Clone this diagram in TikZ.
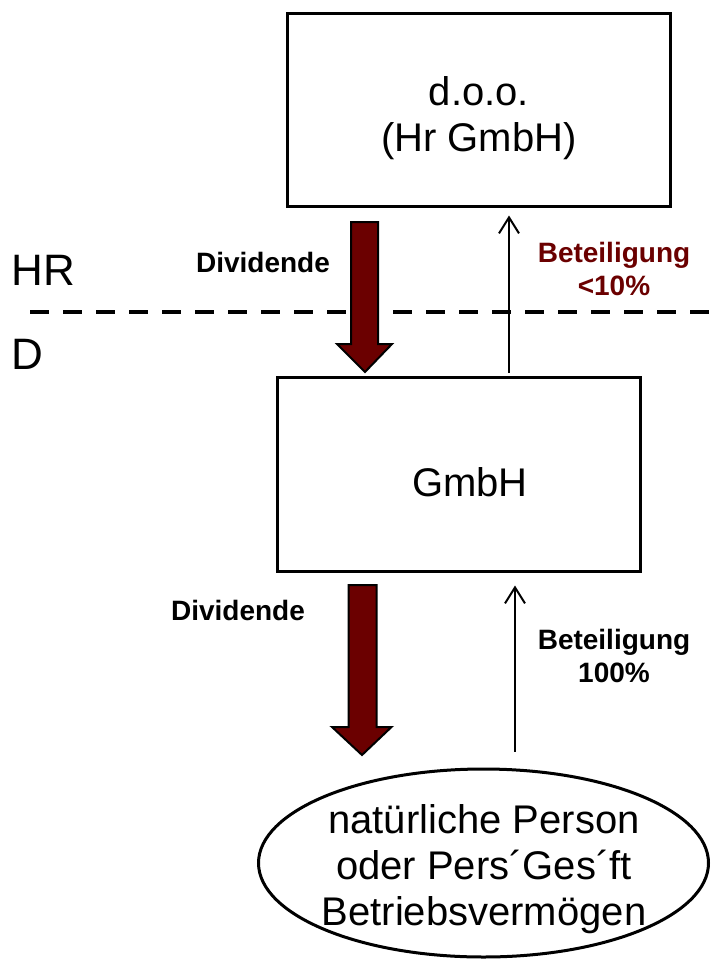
\documentclass[tikz,border=0pt]{standalone}
\usepackage{fontspec}
\setmainfont{Liberation Sans}
\usetikzlibrary{arrows.meta,shapes.geometric}
\definecolor{divred}{HTML}{6B0000}
\begin{document}
\begin{tikzpicture}[x=1pt,y=-1pt,
  box/.style={draw,line width=3pt,inner sep=0pt},
  bigtxt/.style={font=\fontsize{40}{46}\selectfont,align=center},
  lbl/.style={font=\fontsize{28}{33}\selectfont\bfseries,align=center},
  fatarrow/.style={fill=divred,draw=black,line width=2pt,line join=miter},
  thin/.style={line width=2pt,-{Straight Barb[length=16pt,width=20pt,line width=2pt]}}]
\useasboundingbox (0,0) rectangle (711,959);
% boxes
\node[box,minimum width=383pt,minimum height=193pt] (doo) at (479,109.5) {};
\node[bigtxt] (dootxt) at (479,118) {d.o.o.\\(Hr GmbH)};
\node[box,minimum width=363pt,minimum height=194pt] (gmbh) at (458.5,474) {};
\node[bigtxt] (gmbhtxt) at (470,482) {GmbH};
\node[draw,ellipse,line width=3pt,minimum width=450pt,minimum height=188pt,inner sep=0pt] (person) at (483.5,863) {};
\node[bigtxt] (persontxt) at (484,869) {natürliche Person\\oder Pers´Ges´ft\\Betriebsvermögen};
% border line
\coordinate (dl) at (30,312);
\coordinate (dr) at (711,312);
\draw[line width=4pt,dash pattern=on 19pt off 14pt] (dl) -- (dr);
\node[font=\fontsize{44}{50}\selectfont,anchor=west] (hr) at (8,270) {HR};
\node[font=\fontsize{44}{50}\selectfont,anchor=west] (d) at (8,354) {D};
% fat arrows
\draw[fatarrow] (351,222) -- (378,222) -- (378,344) -- (392,344) -- (365,372) -- (337,344) -- (351,344) -- cycle;
\draw[fatarrow] (348.5,585) -- (376.5,585) -- (376.5,727) -- (391.5,727) -- (362,755) -- (332,727) -- (348.5,727) -- cycle;
% thin arrows
\draw[thin] ([yshift=3pt]gmbh.north -| 509,0) -- ([yshift=-8pt]doo.south -| 509,0);
\draw[thin] ([yshift=16pt]person.north -| 515,0) -- ([yshift=-13pt]gmbh.south -| 515,0);
% labels
\node[lbl] (div1) at (263,262) {Dividende};
\node[lbl,text=divred] (bet1) at (614,269) {Beteiligung\\<10\%};
\node[lbl] (div2) at (238,610) {Dividende};
\node[lbl] (bet2) at (614,656) {Beteiligung\\100\%};
\end{tikzpicture}
\end{document}
